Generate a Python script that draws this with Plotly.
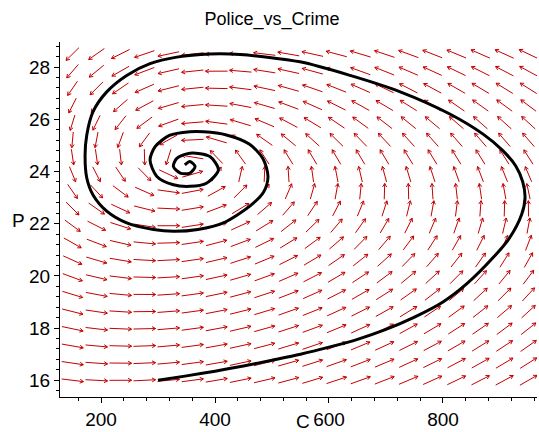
import numpy as np
import plotly.graph_objects as go

# ---------------- data ----------------
# solution curve (C, P) starting at C=300, P=16
traj_C = [300, 350, 400, 450, 500, 550, 600, 650, 700, 750, 800, 842, 888, 917, 938, 944,
          940, 928, 905, 871, 812, 725, 637, 549, 444, 391, 333, 286, 245, 210, 186, 175,
          172, 175, 186, 210, 245, 292, 327, 370, 415, 461, 485, 493, 484, 460, 420, 380,
          356, 320, 295, 286, 298, 327, 356, 385, 406, 391, 356, 333, 327, 339, 356, 365,
          356, 347]
traj_P = [16.0, 16.17, 16.35, 16.55, 16.77, 17.0, 17.27, 17.57, 17.95, 18.42, 19.0, 19.7,
          20.7, 21.46, 22.35, 22.98, 23.6, 24.2, 24.8, 25.42, 26.2, 27.05, 27.68, 28.2, 28.48,
          28.5, 28.38, 28.13, 27.68, 27.05, 26.29, 25.4, 24.63, 23.75, 23.1, 22.48, 22.03,
          21.78, 21.71, 21.78, 22.03, 22.67, 23.2, 23.8, 24.5, 25.05, 25.4, 25.52, 25.52,
          25.38, 24.95, 24.44, 23.81, 23.49, 23.43, 23.55, 24.06, 24.57, 24.7, 24.5, 24.19,
          23.94, 23.94, 24.19, 24.38, 24.25]

# direction-field grid (20 x 20) and model coefficients
grid_C = [150 + 800 * i / 19 for i in range(20)]
grid_P = [16 + 12.5 * j / 19 for j in range(20)]
crime_null_intercept = 25.4     # dC/dt = 0 on P = 25.4 - 0.003 C
crime_null_slope = 0.003
police_ratio = 14.5             # dP/dt = 0 on C = 14.5 P
rate_ratio = 3.54e-3            # police rate / crime rate

x_ticks = [200, 400, 600, 800]
y_ticks = [16, 18, 20, 22, 24, 26, 28]
title_text = "Police_vs_Crime"
x_label = "C"
y_label = "P"

# ---------------- layout geometry ----------------
W, H = 539, 432
ml, mr, mt, mb = 60, 2, 42, 32
xr = [128, 965]
yr = [15.36, 28.96]
pw, ph = W - ml - mr, H - mt - mb
sx = pw / (xr[1] - xr[0])
sy = ph / (yr[1] - yr[0])
cellw = (grid_C[1] - grid_C[0]) * sx
cellh = (grid_P[1] - grid_P[0]) * sy

ax, ay = [], []
for C in grid_C:
    for P in grid_P:
        f = np.sqrt(C) * (crime_null_intercept - crime_null_slope * C - P)
        g = rate_ratio * (C - police_ratio * P)
        dx, dy = f * sx, g * sy
        n = np.hypot(dx, dy)
        if n == 0:
            continue
        ux, uy = dx / n, dy / n
        L = 0.92 / np.hypot(ux / cellw, uy / cellh)
        tx, ty = -ux * L / 2, -uy * L / 2
        hx, hy = ux * L / 2, uy * L / 2
        ax += [C + tx / sx, C + hx / sx, None]
        ay += [P + ty / sy, P + hy / sy, None]
        hl = 4
        for ang in (np.radians(150), np.radians(-150)):
            wx = ux * np.cos(ang) - uy * np.sin(ang)
            wy = ux * np.sin(ang) + uy * np.cos(ang)
            ax += [C + hx / sx, C + (hx + wx * hl) / sx, None]
            ay += [P + hy / sy, P + (hy + wy * hl) / sy, None]

fig = go.Figure()
fig.add_trace(go.Scatter(x=ax, y=ay, mode="lines",
                         line=dict(color="rgb(196,0,0)", width=1),
                         hoverinfo="skip", showlegend=False))
fig.add_trace(go.Scatter(x=traj_C, y=traj_P, mode="lines",
                         line=dict(color="black", width=3, shape="spline", smoothing=0.8),
                         showlegend=False))

font = "Liberation Sans, Arial, sans-serif"
fig.update_layout(
    width=W, height=H,
    margin=dict(l=ml, r=mr, t=mt, b=mb, pad=0),
    paper_bgcolor="white", plot_bgcolor="white",
    title=dict(text=title_text, x=272 / W, xref="container", xanchor="center",
               y=1 - 19 / H, yref="container", yanchor="middle",
               font=dict(family=font, size=18, color="black")),
    xaxis=dict(range=xr, showgrid=False, zeroline=False, showline=True,
               linecolor="black", linewidth=1, ticks="outside", ticklen=5,
               tickcolor="black", tickvals=x_ticks,
               tickfont=dict(family=font, size=19, color="black"),
               minor=dict(dtick=40, tick0=0, ticks="outside", ticklen=3, tickcolor="black")),
    yaxis=dict(range=yr, showgrid=False, zeroline=False, showline=True,
               linecolor="black", linewidth=1, ticks="outside", ticklen=5,
               tickcolor="black", tickvals=y_ticks,
               tickfont=dict(family=font, size=19, color="black"),
               minor=dict(dtick=0.4, tick0=0, ticks="outside", ticklen=3, tickcolor="black")),
    annotations=[
        dict(text=x_label, x=(303 - ml) / pw, y=(400 - 425) / ph, xref="paper", yref="paper",
             showarrow=False, xanchor="center", yanchor="middle",
             font=dict(family=font, size=19, color="black")),
        dict(text=y_label, x=(18 - ml) / pw, y=(400 - 222) / ph, xref="paper", yref="paper",
             showarrow=False, xanchor="center", yanchor="middle",
             font=dict(family=font, size=19, color="black")),
    ],
)
fig.write_html("out.html")
